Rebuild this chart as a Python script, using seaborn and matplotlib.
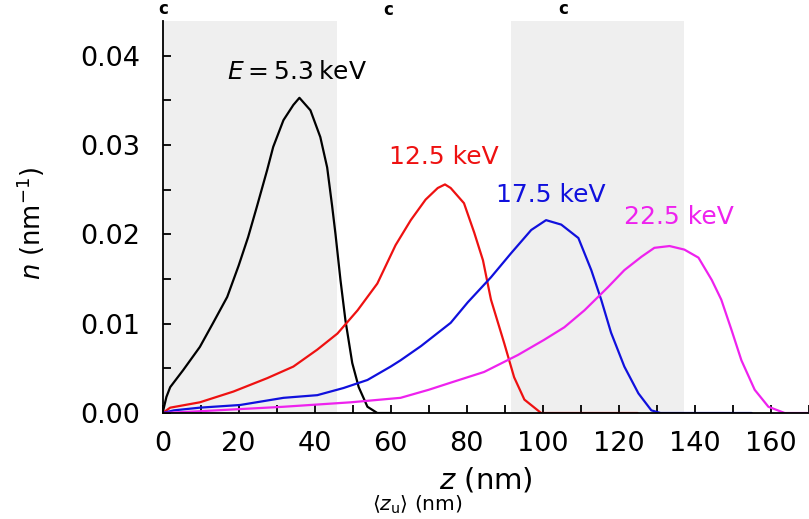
import numpy as np
import pandas as pd
import matplotlib
matplotlib.use("Agg")
import matplotlib.pyplot as plt
import seaborn as sns
from matplotlib.ticker import MultipleLocator

sns.set_theme(style="ticks")
plt.rcParams['font.family'] = ['DejaVu Sans']
plt.rcParams['mathtext.fontset'] = 'dejavusans'
plt.rcParams['text.color'] = 'black'
plt.rcParams['axes.labelcolor'] = 'black'

# Depth profiles n(z) for each beam energy
z_53 = [0, 1, 2, 5.4, 9.8, 13.3, 17, 20, 22.5, 24.8, 27.5, 29.1, 31.8, 34.4, 36.0,
        38.9, 41.5, 43.3, 44.6, 45.5, 46.8, 48.1, 49.9, 51.6, 53.9, 56.5, 60]
n_53 = [0, 0.0018, 0.0029, 0.0048, 0.0074, 0.0101, 0.0130, 0.0165, 0.0197, 0.0231,
        0.0272, 0.0298, 0.0328, 0.0345, 0.0353, 0.0339, 0.0309, 0.0275, 0.0232,
        0.0200, 0.0149, 0.0104, 0.0056, 0.0029, 0.0007, 0.0, 0.0]

z_125 = [0, 2, 9.8, 18.6, 27.5, 34.4, 40.7, 46, 51.3, 56.5, 61.3, 65.3, 69.2, 72.4,
         74.3, 75.8, 79.3, 82, 84.3, 86.4, 89.9, 92.5, 95.2, 99.6, 125]
n_125 = [0, 0.0006, 0.0012, 0.0024, 0.0039, 0.0052, 0.0071, 0.0089, 0.0115, 0.0145,
         0.0188, 0.0216, 0.0239, 0.0252, 0.0256, 0.0252, 0.0235, 0.0202, 0.0171,
         0.0127, 0.0078, 0.0040, 0.0015, 0.0, 0.0]

z_175 = [0, 3, 9.8, 20.4, 31.8, 40.7, 47.6, 53.9, 60, 62.6, 68, 75.8, 80.3, 86.4,
         91.7, 97, 100.9, 104.9, 109.4, 112.8, 115.4, 118, 121.5, 125.2, 128.6,
         131, 155]
n_175 = [0, 0.0003, 0.0006, 0.0009, 0.0017, 0.0020, 0.0028, 0.0037, 0.0052, 0.0059,
         0.0075, 0.0101, 0.0124, 0.0152, 0.0179, 0.0205, 0.0216, 0.0211, 0.0196,
         0.0160, 0.0127, 0.0090, 0.0052, 0.0022, 0.0003, 0.0, 0.0]

z_225 = [0, 9.8, 31.8, 49.5, 62.6, 70, 75.8, 84.6, 93.5, 100.4, 105.7, 111, 117.2,
         121.5, 126, 129.4, 133.4, 137.3, 141, 144.5, 147, 149.7, 152.3, 155.8,
         159.4, 163.7, 170]
n_225 = [0, 0.0002, 0.0007, 0.0012, 0.0017, 0.0026, 0.0034, 0.0046, 0.0065, 0.0082,
         0.0096, 0.0115, 0.0141, 0.0160, 0.0175, 0.0185, 0.0187, 0.0183, 0.0174,
         0.0149, 0.0127, 0.0093, 0.0059, 0.0026, 0.0007, 0.0, 0.0]

energies = ["5.3", "12.5", "17.5", "22.5"]
colors = ["black", "#ee1111", "#1010dd", "#ee22ee"]

# Shaded depth ranges
bands = [(0, 45.8), (91.7, 137.3)]

frames = []
for e, zz, nn in zip(energies, [z_53, z_125, z_175, z_225], [n_53, n_125, n_175, n_225]):
    frames.append(pd.DataFrame({"z": zz, "n": nn, "E": e}))
df = pd.concat(frames, ignore_index=True)

fig = plt.figure(figsize=(8.09, 5.19), dpi=100)
ax = fig.add_axes([0.201, 0.2042, 0.80, 0.7553])

for lo, hi in bands:
    ax.axvspan(lo, hi, color="#efefef", lw=0, zorder=0)

sns.lineplot(data=df, x="z", y="n", hue="E", palette=dict(zip(energies, colors)),
             estimator=None, sort=False, legend=False, lw=1.6, ax=ax)

ax.set_xlim(0, 170.3)
ax.set_ylim(0, 0.0439)
ax.xaxis.set_major_locator(MultipleLocator(20))
ax.xaxis.set_minor_locator(MultipleLocator(10))
ax.yaxis.set_major_locator(MultipleLocator(0.01))
ax.yaxis.set_minor_locator(MultipleLocator(0.005))
ax.yaxis.set_major_formatter(matplotlib.ticker.FormatStrFormatter('%.2f'))
ax.tick_params(which="both", direction="in", length=6, width=1.3, colors="black",
               labelsize=19.5)
ax.tick_params(axis="x", pad=13)
ax.tick_params(axis="y", pad=16)
for s in ["top", "right"]:
    ax.spines[s].set_visible(False)
for s in ["left", "bottom"]:
    ax.spines[s].set_linewidth(1.3)
    ax.spines[s].set_color("black")

ax.set_xlabel(r"$z$ (nm)", fontsize=21, color="black")
ax.xaxis.set_label_coords(0.5, -0.135)
ax.set_ylabel(r"$n$ (nm$^{-1}$)", fontsize=18.5, color="black")
ax.yaxis.set_label_coords(-0.178, 0.485)

ax.text(17.0, 0.0382, "$E$\u2009=\u20095.3\u2009keV", fontsize=18, color=colors[0], va="center")
ax.text(59.5, 0.0287, "12.5 keV", fontsize=18, color=colors[1], va="center")
ax.text(87.7, 0.0244, "17.5 keV", fontsize=18, color=colors[2], va="center")
ax.text(121.4, 0.0220, "22.5 keV", fontsize=18, color=colors[3], va="center")

for xp, yp in [(163, 9), (388, 10), (563, 9)]:
    fig.text(xp / 809, 1 - yp / 519, "c", fontsize=12, fontweight="bold",
             color="black", ha="center", va="center")

fig.text(417 / 809, 1 - 505 / 519, r"$\langle z_{\mathrm{u}}\rangle$ (nm)", fontsize=14.5,
         color="black", ha="center", va="center")

fig.savefig("out.png", dpi=100)
